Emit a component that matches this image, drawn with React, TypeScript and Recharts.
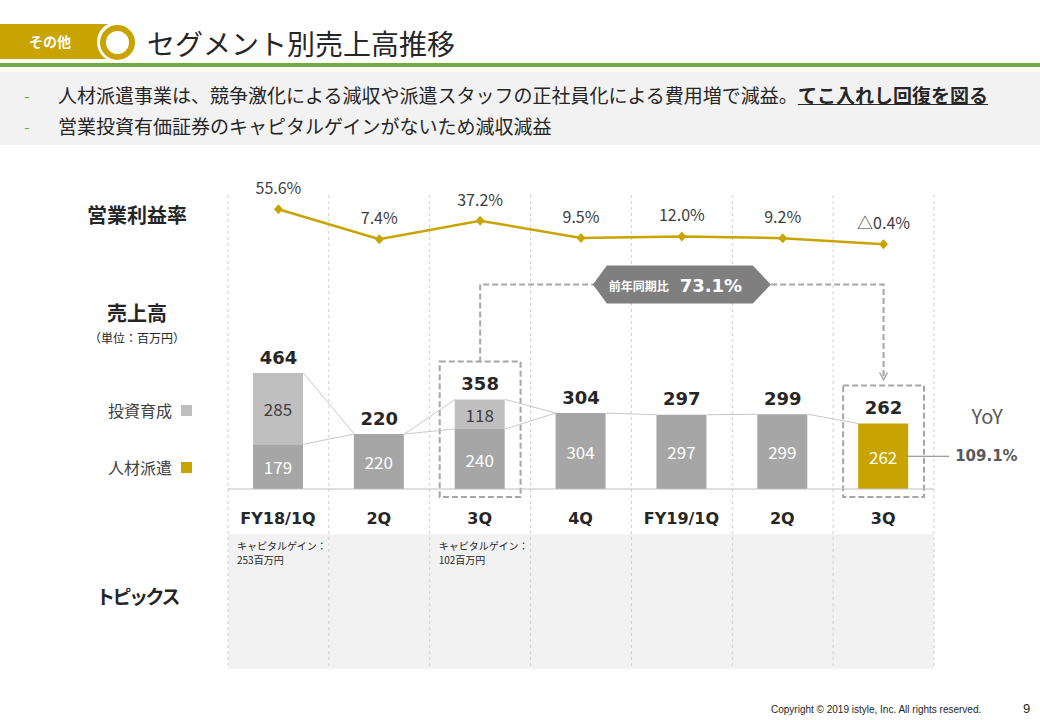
import React from 'react';
import {
  ComposedChart,
  Bar,
  Line,
  XAxis,
  YAxis,
  CartesianGrid,
  LabelList,
  Cell,
  ReferenceLine,
  ReferenceArea,
} from 'recharts';

// data
const periods = ['FY18/1Q', 'FY18/2Q', 'FY18/3Q', 'FY18/4Q', 'FY19/1Q', 'FY19/2Q', 'FY19/3Q'];
const tickLabels = ['FY18/1Q', '2Q', '3Q', '4Q', 'FY19/1Q', '2Q', '3Q'];
const dispatchSales = [179, 220, 240, 304, 297, 299, 262]; // 人材派遣
const investSales = [285, 0, 118, 0, 0, 0, 0]; // 投資育成
const totalSales = [464, 220, 358, 304, 297, 299, 262];
const opMargin = [55.6, 7.4, 37.2, 9.5, 12.0, 9.2, -0.4]; // 営業利益率 %
const topics = [
  ['キャピタルゲイン：', '253百万円'],
  [],
  ['キャピタルゲイン：', '102百万円'],
  [],
  [],
  [],
  [],
];
const compareFrom = 2;
const compareTo = 6;
const totalYoy = '73.1%';
const dispatchYoy = '109.1%';

const GOLD = '#c9a400';
const BAR_GRAY = '#a6a6a6';
const BAR_LIGHT = '#bfbfbf';
const TEXT = '#262626';
const JP = '"Noto Sans CJK JP", "Noto Sans", sans-serif';
const NUM = '"DejaVu Sans", Verdana, sans-serif';
const BAR_SIZE = 50;

const rows = periods.map((p, i) => ({
  period: p,
  tick: tickLabels[i],
  dispatch: dispatchSales[i],
  invest: investSales[i],
  total: totalSales[i],
  margin: opMargin[i],
  topic: topics[i],
}));

// connectors between neighbouring bars (dispatch top -> dispatch top, total top -> total top)
const connectors: { a: number; b: number; i: number }[] = [];
for (let i = 0; i < periods.length - 1; i++) {
  connectors.push({ a: dispatchSales[i], b: dispatchSales[i + 1], i });
  const sameTop = totalSales[i] === dispatchSales[i] && totalSales[i + 1] === dispatchSales[i + 1];
  if (!sameTop) connectors.push({ a: totalSales[i], b: totalSales[i + 1], i });
}

const box = (p: any) => {
  const vb = p.viewBox || {};
  return {
    x: vb.x ?? p.x,
    y: vb.y ?? p.y,
    width: vb.width ?? p.width ?? 0,
    height: vb.height ?? p.height ?? 0,
  };
};

const fmtPct = (v: number) => (v < 0 ? '△' + Math.abs(v).toFixed(1) : v.toFixed(1)) + '%';

const PctLabel = (p: any) => {
  const { x, y } = box(p);
  return (
    <text x={x} y={y - 22} textAnchor="middle" dominantBaseline="central" fill="#404040" fontSize={16} fontFamily={JP}>
      {fmtPct(p.value)}
    </text>
  );
};

const TotalLabel = (p: any) => {
  const { x, y } = box(p);
  return (
    <text x={x} y={y - 16} textAnchor="middle" dominantBaseline="central" fill={TEXT} fontSize={18} fontWeight="bold" fontFamily={NUM}>
      {p.value}
    </text>
  );
};

const inLabel = (color: string) => (p: any) => {
  if (!p.value) return null;
  const { x, y, width, height } = box(p);
  return (
    <text x={x + width / 2} y={y + height / 2} textAnchor="middle" dominantBaseline="central" fill={color} fontSize={17} fontFamily={JP}>
      {p.value}
    </text>
  );
};

const CatLabel = (p: any) => {
  const { x, y, width, height } = box(p);
  return (
    <text x={x + width / 2} y={y + height + 29} textAnchor="middle" dominantBaseline="central" fill={TEXT} fontSize={16} fontWeight="bold" fontFamily={NUM}>
      {p.value}
    </text>
  );
};

const TopicLabel = (p: any) => {
  const lines: string[] = p.value || [];
  if (!lines.length) return null;
  const { x, y, height } = box(p);
  const base = y + height;
  return (
    <g>
      {lines.map((t, k) => (
        <text key={k} x={x - 16} y={base + 56 + k * 14.5} dominantBaseline="central" fill={TEXT} fontSize={10} fontFamily={JP}>
          {t}
        </text>
      ))}
    </g>
  );
};

const YoyLabel = (p: any) => {
  if (p.index !== periods.length - 1) return null;
  const { x, y, width, height } = box(p);
  const right = x + width;
  const cy = y + height / 2;
  return (
    <g>
      <line x1={right} y1={cy} x2={right + 41} y2={cy} stroke="#7f7f7f" strokeWidth={1} />
      <text x={right + 47} y={cy} dominantBaseline="central" fill="#595959" fontSize={15} fontWeight="bold" fontFamily={NUM}>
        {dispatchYoy}
      </text>
      <text x={right + 79} y={cy - 41} textAnchor="middle" dominantBaseline="central" fill="#595959" fontSize={20} fontFamily={JP}>
        YoY
      </text>
    </g>
  );
};

const Diamond = (p: any) => {
  const { cx, cy, index } = p;
  return <path key={index} d={`M${cx},${cy - 5}L${cx + 4.5},${cy}L${cx},${cy + 5}L${cx - 4.5},${cy}Z`} fill={GOLD} />;
};

const Connector = (p: any) => (
  <line x1={p.x1 + BAR_SIZE / 2} y1={p.y1} x2={p.x2 - BAR_SIZE / 2} y2={p.y2} stroke="#c8c8c8" strokeWidth={1} />
);

const DashBox = (p: any) => (
  <rect
    x={p.x + 10}
    y={p.y - 38}
    width={p.width - 20}
    height={p.height + 46}
    fill="none"
    stroke="#a6a6a6"
    strokeWidth={2}
    strokeDasharray="6 3"
  />
);

const Bracket = (p: any) => {
  const { x1, y1, x2, y2 } = p;
  const top = Math.min(y1, y2) - 115;
  const tipY = y2 - 44;
  const mx = (x1 + x2) / 2;
  const hw = 89;
  const hh = 19;
  const hex = `M${mx - hw},${top} L${mx - hw + 14},${top - hh} L${mx + hw - 18},${top - hh} L${mx + hw},${top} L${mx + hw - 18},${top + hh} L${mx - hw + 14},${top + hh} Z`;
  return (
    <g>
      <path
        d={`M${x1},${y1 - 37} V${top} H${x2} V${tipY}`}
        fill="none"
        stroke="#a6a6a6"
        strokeWidth={2}
        strokeDasharray="6 3"
      />
      <path d={`M${x2 - 4},${tipY - 7} L${x2},${tipY} L${x2 + 4},${tipY - 7}`} fill="none" stroke="#a6a6a6" strokeWidth={1.5} />
      <path d={hex} fill="#7f7f7f" />
      <text x={mx - 43} y={top + 1} textAnchor="middle" dominantBaseline="central" fill="#fff" fontSize={12} fontWeight="bold" fontFamily={JP}>
        前年同期比
      </text>
      <text x={mx + 29} y={top + 1} textAnchor="middle" dominantBaseline="central" fill="#fff" fontSize={18} fontWeight="bold" fontFamily={NUM}>
        {totalYoy}
      </text>
    </g>
  );
};

const abs = (left: number, top: number, extra: React.CSSProperties = {}): React.CSSProperties => ({
  position: 'absolute',
  left,
  top,
  ...extra,
});

const SideLabel = ({ top, children, size = 20, bold = true, spacing = 0 }: any) => (
  <div
    style={abs(37, top, {
      width: 200,
      textAlign: 'center',
      fontSize: size,
      fontWeight: bold ? 'bold' : 'normal',
      color: TEXT,
      fontFamily: JP,
      lineHeight: 1,
      letterSpacing: spacing,
    })}
  >
    {children}
  </div>
);

const LegendItem = ({ top, label, color }: any) => (
  <div style={abs(60, top, { width: 132, display: 'flex', justifyContent: 'flex-end', alignItems: 'center', fontFamily: JP, fontSize: 16, color: '#404040' })}>
    <span>{label}</span>
    <span style={{ display: 'inline-block', width: 11, height: 11, background: color, marginLeft: 9 }} />
  </div>
);

const App = () => {
  const n = periods.length;
  return (
    <div style={{ position: 'absolute', left: 0, top: 0, width: 1040, height: 720, background: '#fff', overflow: 'hidden', fontFamily: JP }}>
      {/* header */}
      <div style={abs(0, 24, { width: 112, height: 35, background: GOLD })} />
      <div style={abs(0, 24, { width: 100, height: 35, lineHeight: '35px', textAlign: 'center', color: '#fff', fontWeight: 'bold', fontSize: 14 })}>
        その他
      </div>
      <div style={abs(97, 22, { width: 40, height: 40, borderRadius: '50%', background: '#fff' })} />
      <div style={abs(100, 25, { width: 23, height: 23, borderRadius: '50%', border: `6px solid ${GOLD}`, background: '#fff' })} />
      <div style={abs(147, 24, { fontSize: 28, lineHeight: '38px', color: TEXT, whiteSpace: 'nowrap' })}>セグメント別売上高推移</div>
      <div style={abs(0, 63, { width: 1040, height: 4, background: '#70ad47' })} />
      <div style={abs(0, 72, { width: 1040, height: 73, background: '#f2f2f2' })} />
      {[
        [95, <>人材派遣事業は、競争激化による減収や派遣スタッフの正社員化による費用増で減益。<b style={{ textDecoration: 'underline' }}>てこ入れし回復を図る</b></>],
        [126, <>営業投資有価証券のキャピタルゲインがないため減収減益</>],
      ].map(([cy, content]: any, k) => (
        <React.Fragment key={k}>
          <div style={abs(24, cy - 12, { fontSize: 16, color: '#70ad47', lineHeight: '24px' })}>-</div>
          <div style={abs(58, cy - 14, { fontSize: 19, color: TEXT, lineHeight: '28px', whiteSpace: 'nowrap' })}>{content}</div>
        </React.Fragment>
      ))}

      {/* left side labels */}
      <SideLabel top={205}>営業利益率</SideLabel>
      <SideLabel top={303}>売上高</SideLabel>
      <SideLabel top={332} size={12} bold={false}>（単位：百万円）</SideLabel>
      <LegendItem top={398} label="投資育成" color={BAR_LIGHT} />
      <LegendItem top={455} label="人材派遣" color={GOLD} />
      <SideLabel top={586} size={19} spacing={-2.5}>トピックス</SideLabel>

      {/* topics background */}
      <div style={abs(228, 534, { width: 706, height: 135, background: '#f2f2f2' })} />

      <div style={abs(0, 0)}>
        <ComposedChart
          width={1040}
          height={720}
          data={rows}
          margin={{ top: 195, right: 106, bottom: 51, left: 228 }}
        >
          <CartesianGrid
            yAxisId="sales"
            horizontal={false}
            stroke="#d0d0d0"
            strokeDasharray="3 3"
            verticalCoordinatesGenerator={({ offset }: any) =>
              Array.from({ length: n + 1 }, (_, i) => offset.left + (i * offset.width) / n)
            }
          />
          <XAxis dataKey="period" hide />
          <YAxis yAxisId="sales" hide type="number" domain={[-720, 1176]} allowDataOverflow />
          <YAxis yAxisId="pct" hide type="number" domain={[-683.4, 78.6]} allowDataOverflow />

          {connectors.map((c, k) => (
            <ReferenceLine
              key={'c' + k}
              yAxisId="sales"
              ifOverflow="visible"
              segment={[
                { x: periods[c.i], y: c.a },
                { x: periods[c.i + 1], y: c.b },
              ]}
              shape={Connector}
            />
          ))}

          <Bar yAxisId="sales" dataKey="dispatch" stackId="s" barSize={BAR_SIZE} isAnimationActive={false}>
            {rows.map((r, i) => (
              <Cell key={i} fill={i === n - 1 ? GOLD : BAR_GRAY} />
            ))}
            <LabelList dataKey="dispatch" content={inLabel('#ffffff')} />
            <LabelList dataKey="tick" content={CatLabel} />
            <LabelList dataKey="topic" content={TopicLabel} />
            <LabelList dataKey="dispatch" content={YoyLabel} />
          </Bar>
          <Bar yAxisId="sales" dataKey="invest" stackId="s" barSize={BAR_SIZE} fill={BAR_LIGHT} isAnimationActive={false}>
            <LabelList dataKey="invest" content={inLabel('#404040')} />
          </Bar>

          <ReferenceLine yAxisId="sales" y={0} stroke="#bfbfbf" strokeWidth={1} />

          {[compareFrom, compareTo].map((i) => (
            <ReferenceArea
              key={'a' + i}
              yAxisId="sales"
              x1={periods[i]}
              x2={periods[i]}
              y1={0}
              y2={totalSales[i]}
              ifOverflow="visible"
              shape={DashBox}
            />
          ))}
          <ReferenceLine
            yAxisId="sales"
            ifOverflow="visible"
            segment={[
              { x: periods[compareFrom], y: totalSales[compareFrom] },
              { x: periods[compareTo], y: totalSales[compareTo] },
            ]}
            shape={Bracket}
          />

          <Line
            yAxisId="sales"
            dataKey="total"
            stroke="none"
            dot={false}
            activeDot={false}
            isAnimationActive={false}
          >
            <LabelList dataKey="total" content={TotalLabel} />
          </Line>

          <Line
            yAxisId="pct"
            dataKey="margin"
            stroke={GOLD}
            strokeWidth={2.5}
            dot={Diamond}
            activeDot={false}
            isAnimationActive={false}
          >
            <LabelList dataKey="margin" content={PctLabel} />
          </Line>
        </ComposedChart>
      </div>

      {/* footer */}
      <div style={abs(771, 703, { fontFamily: '"Liberation Sans", Arial, sans-serif', fontSize: 10, color: TEXT, whiteSpace: 'nowrap', lineHeight: '14px' })}>
        Copyright © 2019 istyle, Inc. All rights reserved.
      </div>
      <div style={abs(1023, 701, { fontFamily: '"Liberation Sans", Arial, sans-serif', fontSize: 13, color: TEXT, lineHeight: '16px' })}>9</div>
    </div>
  );
};

export default App;
